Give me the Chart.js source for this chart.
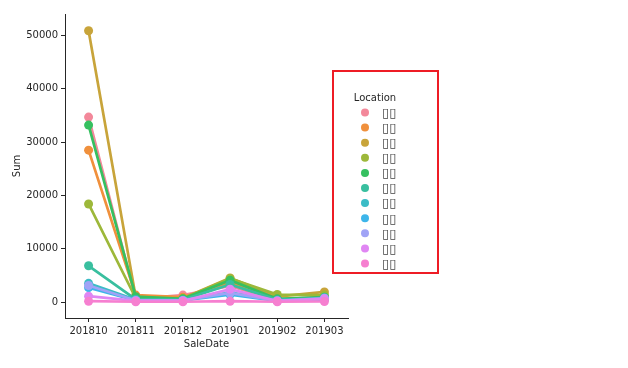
<!DOCTYPE html>
<html>
<head>
<meta charset="utf-8">
<script src="https://cdn.jsdelivr.net/npm/chart.js@4/dist/chart.umd.min.js"></script>
<style>
  html, body { margin: 0; padding: 0; background: #ffffff; }
  #wrap { width: 628px; height: 368px; }
</style>
</head>
<body>
<div id="wrap"><canvas id="c" width="628" height="368"></canvas></div>
<script>
// ---- data ----
const categories = ["201810", "201811", "201812", "201901", "201902", "201903"];
const locations = ["\u25AF\u25AF", "\u25AF\u25AF", "\u25AF\u25AF", "\u25AF\u25AF", "\u25AF\u25AF", "\u25AF\u25AF",
                   "\u25AF\u25AF", "\u25AF\u25AF", "\u25AF\u25AF", "\u25AF\u25AF", "\u25AF\u25AF"];
const loc1  = [34700,  600, 1300, 3000,  300,  500];
const loc2  = [28500, 1300,  900, 3700,  500,  900];
const loc3  = [50900,  900,  700, 4500, 1000, 1900];
const loc4  = [18400,  700,  600, 4400, 1400, 1300];
const loc5  = [33200, 1000,  600, 4100,  600,  900];
const loc6  = [ 6800,  500,  400, 3300,  400,  600];
const loc7  = [ 3500,  400,  300, 1800,  300,  800];
const loc8  = [ 2700,  300,  300, 1400,  200,  500];
const loc9  = [ 3100,  300,  300, 1700,  200,  700];
const loc10 = [ 1100,  200,  200, 2400,  200,  600];
const loc11 = [  150,   50,   50,  150,   50,  100];
const yTicks = [0, 10000, 20000, 30000, 40000, 50000];
const legendTitle = "Location";
const xTitle = "SaleDate";
const yTitle = "Sum";

const seriesValues = [loc1, loc2, loc3, loc4, loc5, loc6, loc7, loc8, loc9, loc10, loc11];
const colors = ["#f3889a", "#f0903c", "#c8a43a", "#9db83a", "#36c060", "#39bf9f",
                "#3bbcc6", "#3db5ea", "#a0a3f6", "#e086f3", "#f67fd0"];

const n = seriesValues.length;
const datasets = seriesValues.map((vals, i) => ({
  label: locations[i],
  data: vals,
  borderColor: colors[i],
  backgroundColor: colors[i],
  pointBackgroundColor: colors[i],
  pointBorderWidth: 0,
  pointRadius: 4.5,
  borderWidth: 2.7,
  tension: 0,
  order: n - 1 - i
}));

const font = { family: "DejaVu Sans", size: 10 };
const ink = "#262626";

const legendPlugin = {
  id: "boxLegend",
  afterDraw(chart) {
    const ctx = chart.ctx;
    ctx.save();
    const x0 = 333, y0 = 71, w = 105, h = 202;
    ctx.fillStyle = "#ffffff";
    ctx.fillRect(x0, y0, w, h);
    ctx.strokeStyle = "#ee1c25";
    ctx.lineWidth = 2;
    ctx.strokeRect(x0, y0, w, h);
    ctx.fillStyle = ink;
    ctx.font = "10px 'DejaVu Sans'";
    ctx.textAlign = "center";
    ctx.textBaseline = "middle";
    ctx.fillText(legendTitle, 375, 98);
    chart.data.datasets.forEach((ds, i) => {
      const y = 112.5 + i * 15.1;
      ctx.beginPath();
      ctx.fillStyle = ds.backgroundColor;
      ctx.arc(365, y, 4, 0, Math.PI * 2);
      ctx.fill();
      ctx.fillStyle = "#444444";
      ctx.font = "13px 'DejaVu Sans'";
      ctx.textAlign = "left";
      ctx.fillText(ds.label, 382, y + 1);
    });
    ctx.restore();
  }
};

new Chart(document.getElementById("c"), {
  type: "line",
  data: { labels: categories, datasets },
  plugins: [legendPlugin],
  options: {
    responsive: false,
    animation: false,
    devicePixelRatio: 1,
    layout: { padding: { left: 0, top: 14, right: 280, bottom: 0 } },
    plugins: { legend: { display: false }, tooltip: { enabled: false } },
    scales: {
      x: {
        type: "category",
        offset: true,
        afterFit(s) { s.height = 50; },
        grid: { offset: false, drawOnChartArea: false, drawTicks: true, tickLength: 4, color: ink },
        border: { display: true, color: ink, width: 1 },
        ticks: { color: ink, font, padding: 3, maxRotation: 0, autoSkip: false },
        title: { display: true, text: xTitle, color: ink, font, padding: { top: 0, bottom: 18 } }
      },
      y: {
        min: -3000,
        max: 54050,
        afterFit(s) { s.width = 65; },
        afterBuildTicks(s) { s.ticks = yTicks.map(v => ({ value: v })); },
        grid: { drawOnChartArea: false, drawTicks: true, tickLength: 4, color: ink },
        border: { display: true, color: ink, width: 1 },
        ticks: { color: ink, font, padding: 3, callback: (v) => String(v) },
        title: { display: true, text: yTitle, color: ink, font, padding: { top: 11, bottom: 0 } }
      }
    }
  }
});
</script>
</body>
</html>
